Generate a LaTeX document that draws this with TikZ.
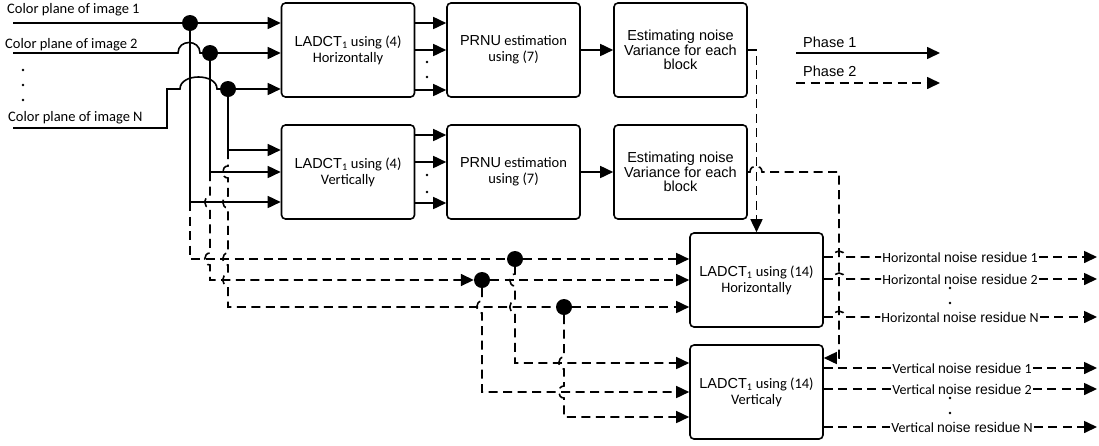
\documentclass[tikz,border=0pt]{standalone}
\usepackage{fontspec}
\setmainfont{Carlito}
\newfontfamily\arial{Liberation Sans}
\usetikzlibrary{arrows.meta}

\begin{document}
\begin{tikzpicture}[x=1pt,y=-1pt,font=\fontsize{14.5}{16}\selectfont,
    wire/.style={line width=1.6pt},
    ph2/.style={wire,dash pattern=on 9pt off 5.5pt},
    arr/.style={-{Triangle[length=13pt,width=12pt]}},
    blk/.style={draw,line width=1.6pt,rounded corners=4pt,minimum width=133pt,
      minimum height=94pt,align=center,inner sep=2pt},
    arl/.style={font=\fontsize{14.5}{14.5}\selectfont\arial},
    jdot/.style={circle,fill,inner sep=0pt,minimum size=16pt},
    vdot/.style={circle,fill,inner sep=0pt,minimum size=2.8pt},
    lbl/.style={inner sep=1pt,font=\fontsize{14}{15}\selectfont},
    hopover/.style={to path={.. controls +(0,-#1) and +(0,-#1) .. (\tikztotarget)}},
    hopover/.default=8,
    hopdown/.style={to path={.. controls +(-#1,0) and +(-#1,0) .. (\tikztotarget)}},
    hopdown/.default=7]
  \useasboundingbox (0,0) rectangle (1099,445);
  \node[blk] (ladH) at (348,50) {{\arial LADCT}\textsubscript{1} using (4)\\Horizontally};
  \node[blk] (prnuH) at (513.5,50) {{\arial PRNU} estimation\\using (7)};
  \node[blk,arl] (varH) at (680.5,50) {Estimating noise\\Variance for each\\block};
  \node[blk] (ladV) at (348,172) {{\arial LADCT}\textsubscript{1} using (4)\\Vertically};
  \node[blk] (prnuV) at (513.5,172) {{\arial PRNU} estimation\\using (7)};
  \node[blk,arl] (varV) at (680.5,172) {Estimating noise\\Variance for each\\block};
  \node[blk] (resH) at (756.5,280) {{\arial LADCT}\textsubscript{1} using (14)\\Horizontally};
  \node[blk] (resV) at (756.5,392) {{\arial LADCT}\textsubscript{1} using (14)\\Verticaly};

  \node[anchor=west,inner sep=0pt] (t1) at (7,10) {Color plane of image 1};
  \node[anchor=west,inner sep=0pt] (t2) at (5,45) {Color plane of image 2};
  \node[anchor=west,inner sep=0pt] (tN) at (8,118) {Color plane of image N};
  \foreach \y [count=\i] in {70,85,100} \node[vdot] (ld\i) at (23,\y) {};
  \coordinate (s1) at (13,23);
  \coordinate (s2) at (13,53);
  \coordinate (sN) at (13,128);

  \node[jdot] (j1) at (190,23) {};
  \node[jdot] (j2) at (210,53) {};
  \node[jdot] (j3) at (228,89) {};
  \node[jdot] (d1) at (515,259) {};
  \node[jdot] (d2) at (482,280) {};
  \node[jdot] (d3) at (564,307) {};

  % phase 1
  \draw[wire] (s1) -- (j1);
  \draw[wire] (s2) -- (178,53) to[hopover=14] (200,53) -- (j2);
  \draw[wire] (sN) -- (167,128) -- (167,89) -- (180,89) to[hopover=16] (217,89) -- (j3);
  \draw[wire,arr] (j1) -- (ladH.west |- j1);
  \draw[wire,arr] (j2) -- (ladH.west |- j2);
  \draw[wire,arr] (j3) -- (ladH.west |- j3);
  \draw[wire] (j1) -- (190,202) coordinate (b1);
  \draw[wire] (j2) -- (210,172) coordinate (b2);
  \draw[wire] (j3) -- (228,150) coordinate (b3);
  \draw[wire,arr] (b1) -- (ladV.west |- b1);
  \draw[wire,arr] (b2) -- (ladV.west |- b2);
  \draw[wire,arr] (b3) -- (ladV.west |- b3);
  \foreach \y in {23,50,90} \draw[wire,arr] (ladH.east |- 0,\y) -- (prnuH.west |- 0,\y);
  \foreach \y in {135,162,203} \draw[wire,arr] (ladV.east |- 0,\y) -- (prnuV.west |- 0,\y);
  \foreach \y [count=\i] in {62,77} \node[vdot] (hd\i) at (427,\y) {};
  \foreach \y [count=\i] in {175,192} \node[vdot] (vd\i) at (427,\y) {};
  \draw[wire,arr] (prnuH) -- (varH);
  \draw[wire,arr] (prnuV) -- (varV);

  % phase 2
  \draw[ph2] (b1) -- (190,259) -- (d1);
  \draw[ph2,arr] (b2) -- (210,196) to[hopdown] (210,208) -- (210,253) to[hopdown] (210,265)
    -- (210,280) -- (d2);
  \draw[ph2] (b3) -- (228,166) to[hopdown] (228,178) -- (228,196) to[hopdown] (228,208)
    -- (228,253) to[hopdown] (228,265) -- (228,274) to[hopdown] (228,286) -- (228,307) -- (d3);
  \draw[ph2,arr] (d1) -- (resH.west |- d1);
  \draw[ph2,arr] (d2) -- (resH.west |- d2);
  \draw[ph2,arr] (d3) -- (resH.west |- d3);
  \draw[ph2,arr] (d1) -- (515,274) to[hopdown] (515,286) -- (515,301) to[hopdown] (515,313)
    -- (515,363) -- (resV.west |- 0,363);
  \draw[ph2,arr] (d2) -- (482,301) to[hopdown] (482,313) -- (482,392) -- (resV.west |- 0,392);
  \draw[ph2,arr] (d3) -- (564,357) to[hopdown] (564,369) -- (564,386) to[hopdown] (564,398)
    -- (564,417) -- (resV.west |- 0,417);
  \draw[ph2,arr] (varH.east) -| (resH.north);
  \draw[ph2,arr] (varV.east) -- (750,172) to[hopover] (762,172) -- (839,172)
    |- (resV.east |- 0,358);

  \foreach \y/\t [count=\i] in {257/1,279/2,317/N} {
    \node[lbl] (rh\i) at (960,\y) {Horizontal {\arial noise residue} \t};
    \coordinate (oh\i) at (1097,\y);
    \draw[ph2] (resH.east |- rh\i) -- (833,\y) to[hopover] (845,\y) -- (rh\i);
    \draw[ph2,arr] (rh\i) -- (oh\i);
  }
  \foreach \y/\t [count=\i] in {368/1,389/2,427/N} {
    \node[lbl] (rv\i) at (962,\y) {Vertical {\arial noise residue} \t};
    \coordinate (ov\i) at (1097,\y);
    \draw[ph2] (resV.east |- rv\i) -- (rv\i);
    \draw[ph2,arr] (rv\i) -- (ov\i);
  }
  \foreach \y [count=\i] in {288,303} \node[vdot] (rhd\i) at (950,\y) {};
  \foreach \y [count=\i] in {398,413} \node[vdot] (rvd\i) at (950,\y) {};

  \node[arl,anchor=west,inner sep=0pt] (p1) at (803,42) {Phase 1};
  \node[arl,anchor=west,inner sep=0pt] (p2) at (803,71) {Phase 2};
  \coordinate (p1a) at (796,53);
  \coordinate (p1b) at (940,53);
  \coordinate (p2a) at (796,83);
  \coordinate (p2b) at (940,83);
  \draw[wire,arr] (p1a) -- (p1b);
  \draw[ph2,arr] (p2a) -- (p2b);
\end{tikzpicture}
\end{document}
